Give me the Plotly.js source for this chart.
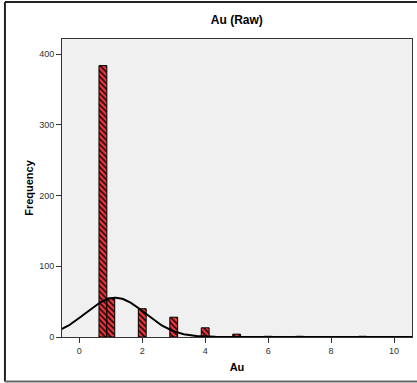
<!DOCTYPE html>
<html>
<head>
<meta charset="utf-8">
<script src="https://cdn.plot.ly/plotly-3.0.1.min.js"></script>
<style>
html,body{margin:0;padding:0;background:#fff;}
#chart{width:417px;height:383px;}
</style>
</head>
<body>
<div id="chart"></div>
<script>
// Histogram bins (Au value, bin centre) and frequencies
var binCenters = [0.75, 1.0, 2.0, 3.0, 4.0, 5.0, 6.0, 7.0, 9.0];
var frequencies = [384, 55, 40, 28, 13, 4, 1, 1, 1];
var binWidth = 0.25;
var xTicks = [0, 2, 4, 6, 8, 10];
var yTicks = [0, 100, 200, 300, 400];

// Normal curve fitted to the binned data (mean / sd from the bins)
var n = 0, sx = 0, sxx = 0;
for (var i = 0; i < binCenters.length; i++) {
  n += frequencies[i];
  sx += frequencies[i] * binCenters[i];
  sxx += frequencies[i] * binCenters[i] * binCenters[i];
}
var mean = sx / n;
var sd = Math.sqrt(sxx / n - mean * mean);
var curveX = [], curveY = [];
for (var k = 0; k <= 400; k++) {
  var xv = -0.6 + k * (11.2 / 400);
  curveX.push(xv);
  curveY.push(n * binWidth / (sd * Math.sqrt(2 * Math.PI)) * Math.exp(-0.5 * Math.pow((xv - mean) / sd, 2)));
}

var bars = {
  type: 'bar',
  x: binCenters,
  y: frequencies,
  width: binWidth,
  marker: {
    color: '#e8363c',
    line: {color: '#000', width: 1},
    pattern: {shape: '\\', fgcolor: '#000', bgcolor: '#e8363c', size: 4, solidity: 0.35}
  },
  hoverinfo: 'x+y'
};
var curve = {
  type: 'scatter',
  mode: 'lines',
  x: curveX,
  y: curveY,
  line: {color: '#000', width: 2},
  hoverinfo: 'skip'
};

var layout = {
  width: 417, height: 383,
  margin: {l: 62, r: 5, t: 39, b: 46},
  paper_bgcolor: '#fff',
  plot_bgcolor: '#f0f0f0',
  showlegend: false,
  font: {family: 'Liberation Sans, Arial, sans-serif', color: '#000'},
  title: {text: '<b>Au (Raw)</b>', font: {size: 12, color: '#000'}, x: 0.568, xanchor: 'center', y: 0.948, yanchor: 'middle'},
  xaxis: {
    range: [-0.55, 10.57],
    tickvals: xTicks,
    ticktext: xTicks.map(String),
    ticks: 'outside', ticklen: 5, tickwidth: 1, tickcolor: '#333',
    tickfont: {size: 9, color: '#333'},
    showgrid: false, zeroline: false,
    showline: true, linecolor: '#333', linewidth: 1, mirror: true,
    title: {text: '<b>Au</b>', font: {size: 11, color: '#000'}, standoff: 8}
  },
  yaxis: {
    range: [0, 421.6],
    tickvals: yTicks,
    ticktext: yTicks.map(String),
    ticks: 'outside', ticklen: 5, tickwidth: 1, tickcolor: '#333',
    tickfont: {size: 9, color: '#333'},
    showgrid: false, zeroline: false,
    showline: true, linecolor: '#333', linewidth: 1, mirror: true,
    title: {text: '<b>Frequency</b>', font: {size: 11, color: '#000'}, standoff: 3}
  },
  shapes: [
    {type: 'line', xref: 'paper', yref: 'paper', x0: -0.163, x1: 1.02, y0: 1.124, y1: 1.124, line: {color: '#222', width: 2}},
    {type: 'line', xref: 'paper', yref: 'paper', x0: -0.163, x1: -0.163, y0: 1.124, y1: -0.149, line: {color: '#222', width: 2}},
    {type: 'line', xref: 'paper', yref: 'paper', x0: -0.163, x1: 1.02, y0: -0.149, y1: -0.149, line: {color: '#666', width: 2}}
  ]
};

Plotly.newPlot('chart', [bars, curve], layout, {displayModeBar: false, staticPlot: true});
</script>
</body>
</html>
